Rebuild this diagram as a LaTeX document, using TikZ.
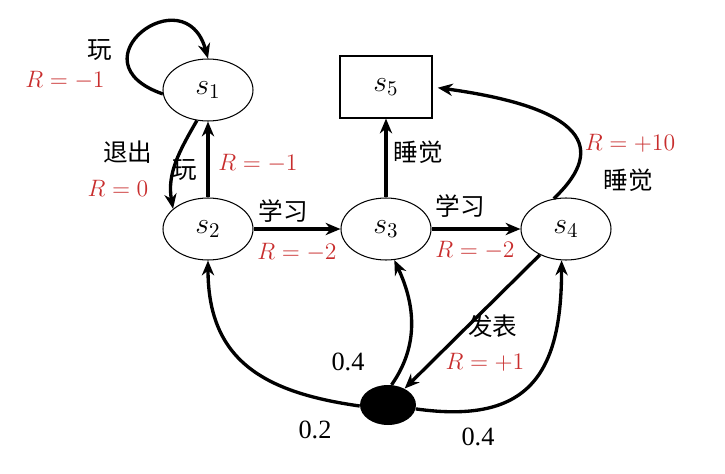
\RequirePackage{fix-cm}
\documentclass[tikz,border=0pt]{standalone}
\usepackage{fontspec}
\setmainfont{Liberation Serif}
\newfontfamily\zh{Noto Sans CJK SC}
\usetikzlibrary{shapes.geometric,arrows.meta}
\definecolor{rewardred}{RGB}{200,45,45}

\begin{document}
\begin{tikzpicture}[x=0.02cm, y=-0.02cm,
    stnode/.style={ellipse, draw, line width=0.6pt, minimum width=1.8cm,
      minimum height=1.24cm, inner sep=0pt, font=\fontsize{17}{19}\selectfont},
    terminal/.style={rectangle, draw, line width=0.6pt, minimum width=1.84cm,
      minimum height=1.24cm, inner sep=0pt, font=\fontsize{17}{19}\selectfont},
    chance/.style={ellipse, fill=black, minimum width=1.12cm, minimum height=0.8cm,
      inner sep=0pt},
    move/.style={-{Stealth[length=8.5pt, width=7pt]}, line width=1.9pt},
    act/.style={font=\zh\fontsize{14}{16}\selectfont},
    reward/.style={text=rewardred, font=\fontsize{13.5}{15}\selectfont},
    prob/.style={font=\fontsize{15}{17}\selectfont}]

  \useasboundingbox (0,0) rectangle (725,474);

  % ===== States =====
  \node[stnode] (s1) at (208, 90) {$s_1$};
  \node[stnode] (s2) at (208, 229) {$s_2$};
  \node[stnode] (s3) at (386, 229) {$s_3$};
  \node[stnode] (s4) at (566, 229) {$s_4$};
  \node[terminal] (s5) at (386, 87) {$s_5$};
  \node[chance] (pub) at (388, 405) {};

  % ===== Actions out of s1 =====
  \draw[move] (s1.185) .. controls (70, 62) and (185, -25) .. (s1.north);
  \node[act] (play1) at (100, 50) {玩};
  \node[reward] (r1) at (65, 80) {$R=-1$};

  \draw[move] (s1.250) to[out=240, in=100] (s2.150);
  \node[act] (quit) at (128, 152) {退出};
  \node[reward] (r0) at (118, 188) {$R=0$};

  % ===== Actions out of s2 =====
  \draw[move] (s2.north) -- (s1.south);
  \node[act] (play2) at (185, 170) {玩};
  \node[reward] (r2) at (258, 163) {$R=-1$};

  \draw[move] (s2.east) -- (s3.west);
  \node[act] (study1) at (283, 211) {学习};
  \node[reward] (r3) at (297, 252) {$R=-2$};

  % ===== Actions out of s3 =====
  \draw[move] (s3.north) -- (s5.south);
  \node[act] (sleep1) at (418, 152) {睡觉};

  \draw[move] (s3.east) -- (s4.west);
  \node[act] (study2) at (460, 206) {学习};
  \node[reward] (r4) at (475, 250) {$R=-2$};

  % ===== Actions out of s4 =====
  \draw[move, shorten >=3pt] (s4.112) .. controls (600, 155) and (600, 110) .. (s5.east);
  \node[reward] (r10) at (630, 143) {$R=+10$};
  \node[act] (sleep2) at (628, 180) {睡觉};

  \draw[move] (s4) -- (pub);
  \node[act] (publish) at (493, 326) {发表};
  \node[reward] (rp) at (485, 362) {$R=+1$};

  % ===== Chance branches =====
  \draw[move] (pub.182) to[out=172, in=270, looseness=1.2] (s2.south);
  \node[prob] (p2) at (315, 430) {0.2};

  \draw[move] (pub.80) to[out=55, in=-65, looseness=1] (s3.-75);
  \node[prob] (p3) at (348, 362) {0.4};

  \draw[move] (pub.-8) to[out=-8, in=270, looseness=1.4] (s4.-98);
  \node[prob] (p4) at (478, 437) {0.4};

\end{tikzpicture}
\end{document}
